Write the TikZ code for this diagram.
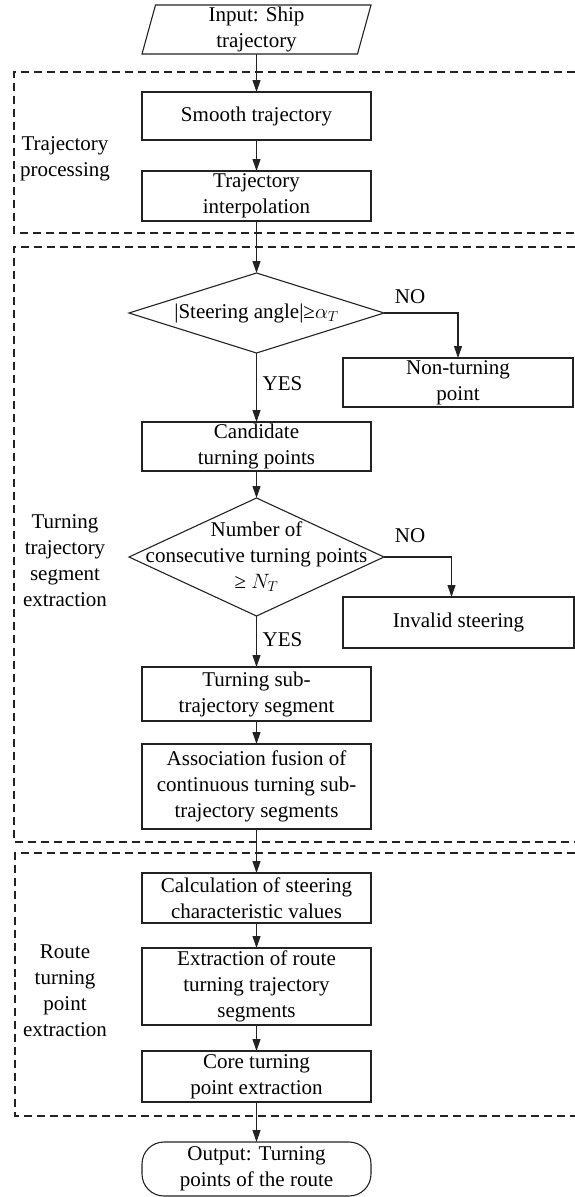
\documentclass[tikz,border=0pt]{standalone}
\usepackage{fontspec}
\setmainfont{Liberation Serif}
\usetikzlibrary{positioning,shapes.geometric,arrows.meta}
\newcommand{\flowfont}{\fontsize{21}{26}\selectfont}
\definecolor{linegray}{HTML}{222222}

\begin{document}
\begin{tikzpicture}[x=1pt,y=-1pt,
				every node/.style={font=\flowfont},
				proc/.style={draw=linegray,line width=1.1pt,rectangle,minimum width=229pt,inner sep=1pt,outer sep=0pt,align=center},
				decision/.style={draw=linegray,line width=1.1pt,diamond,minimum width=255pt,inner sep=0pt,outer sep=0pt,shape aspect=3.2},
				inout/.style={draw=linegray,line width=1.1pt,trapezium,trapezium left angle=74,trapezium right angle=106,
					trapezium stretches body,minimum width=229pt,minimum height=49pt,inner sep=1pt,outer sep=0pt,align=center},
				term/.style={draw=linegray,line width=1.1pt,rectangle,rounded corners=22pt,minimum width=229pt,
					minimum height=54pt,inner sep=1pt,outer sep=0pt,align=center},
				group/.style={draw=linegray,line width=1.1pt,dash pattern=on 8pt off 5pt},
				side/.style={align=center},
				flow/.style={draw=linegray,line width=1.1pt,-{Triangle[length=12pt,width=8pt]}}]
				\useasboundingbox (0,0) rectangle (575,1197);

				% dashed stage frames, open on the right
				\draw[group] (575,72) -| (14,233) -- (575,233);
				\draw[group] (575,247) -| (14,842) -- (575,842);
				\draw[group] (575,853) -| (15,1116) -- (575,1116);

				\node (input)    [inout] at (256.5,29.5)                       {Input: Ship\\trajectory};
				\node (smooth)   [proc,minimum height=48pt,below=38pt of input]  {Smooth trajectory};
				\node (interp)   [proc,minimum height=50pt,below=31pt of smooth] {Trajectory\\interpolation};
				\node (angle)    [decision,minimum height=80pt,below=52pt of interp] {|Steering angle|≥$\alpha_T$};
				\node (nonturn)  [proc,minimum width=230pt,minimum height=49pt] at (458,382.5) {Non-turning\\point};
				\node (cand)     [proc,minimum height=49pt,below=69pt of angle]  {Candidate\\turning points};
				\node (count)    [decision,minimum height=118pt,below=27pt of cand] {};
				\node (counttxt) [align=center] at (count) {Number of\\consecutive turning points\\≥ $N_T$};
				\node (invalid)  [proc,minimum width=231pt,minimum height=51pt] at (458.5,622.5) {Invalid steering};
				\node (subseg)   [proc,minimum height=54pt,below=51pt of count]  {Turning sub-\\trajectory segment};
				\node (fusion)   [proc,minimum height=85pt,below=23pt of subseg] {Association fusion of\\continuous turning sub-\\trajectory segments};
				\node (charval)  [proc,minimum height=50pt,below=44pt of fusion] {Calculation of steering\\characteristic values};
				\node (routeseg) [proc,minimum height=77pt,below=25pt of charval] {Extraction of route\\turning trajectory\\segments};
				\node (core)     [proc,minimum height=51pt,below=26pt of routeseg] {Core turning\\point extraction};
				\node (output)   [term,below=40pt of core]                      {Output: Turning\\points of the route};

				% stage names
				\node (stage1) [side] at (65,158.5) {Trajectory\\processing};
				\node (stage2) [side] at (65,561)   {Turning\\trajectory\\segment\\extraction};
				\node (stage3) [side] at (65,991)   {Route\\turning\\point\\extraction};

				% branch labels
				\node (no1)  at (410,297)   {NO};
				\node (yes1) at (282.5,384) {YES};
				\node (no2)  at (410,536)   {NO};
				\node (yes2) at (282.5,640) {YES};

				\draw[flow] (input.south)  -- (smooth.north);
				\draw[flow] (smooth)       -- (interp);
				\draw[flow] (interp)       -- (angle);
				\draw[flow] (angle.south)  -- (cand.north);
				\draw[flow] (angle.east)   -| (nonturn.north);
				\draw[flow] (cand)         -- (count);
				\draw[flow] (count.south)  -- (subseg.north);
				\draw[flow] (count.east)   -| ([xshift=-7pt]invalid.north);
				\draw[flow] (subseg)       -- (fusion);
				\draw[flow] (fusion)       -- (charval);
				\draw[flow] (charval)      -- (routeseg);
				\draw[flow] (routeseg)     -- (core);
				\draw[flow] (core)         -- (output);
			\end{tikzpicture}
\end{document}
